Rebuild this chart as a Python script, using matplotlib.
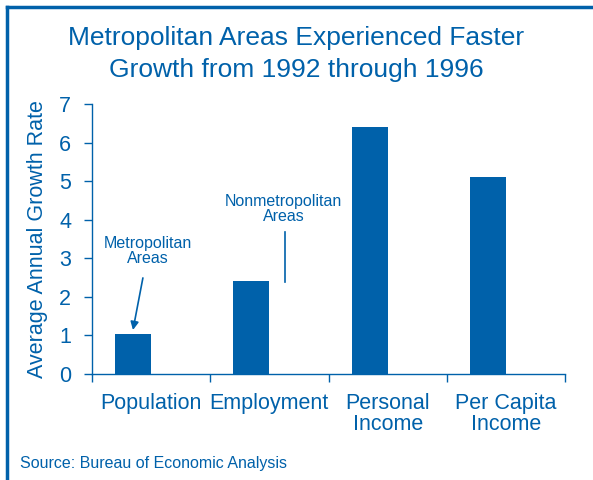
import numpy as np
import matplotlib.pyplot as plt
from matplotlib.lines import Line2D

plt.rcParams['font.family'] = ['Liberation Sans', 'DejaVu Sans']

blue = '#0061aa'

categories = ['Population', 'Employment', 'Personal\nIncome', 'Per Capita\nIncome']
metro = [1.03, 2.42, 6.42, 5.1]

fig = plt.figure(figsize=(5.93, 4.8), dpi=100)
ax = fig.add_axes([0.155, 0.221, 0.798, 0.562])

x = np.arange(len(categories))
ax.bar(x - 0.153, metro, width=0.305, color=blue)

ax.set_xlim(-0.5, 3.5)
ax.set_ylim(0, 7)
ax.set_yticks(range(8))
ax.set_xticks(np.arange(-0.5, 4.0, 1.0))
ax.set_xticklabels([])
ax.set_xticks(x, minor=True)
ax.set_xticklabels(categories, minor=True, fontsize=15.5, color=blue, linespacing=0.95)
ax.tick_params(axis='x', which='minor', length=0, pad=14)
ax.tick_params(axis='x', which='major', direction='out', length=6, color=blue, width=1)
ax.tick_params(axis='y', direction='out', length=6, color=blue, width=1,
               labelsize=15.5, labelcolor=blue, pad=9)
for s in ['top', 'right']:
    ax.spines[s].set_visible(False)
for s in ['left', 'bottom']:
    ax.spines[s].set_color(blue)
    ax.spines[s].set_linewidth(1)

ax.set_ylabel('Average Annual Growth Rate', fontsize=15.5, color=blue, labelpad=8)

# annotations
ax.annotate('Metropolitan\nAreas', xy=(-0.153, 1.14), xytext=(-0.025, 3.2),
            ha='center', va='center', fontsize=11.5, color=blue, linespacing=1.0,
            arrowprops=dict(arrowstyle='-|>', color=blue, lw=1.2, shrinkA=7, shrinkB=0,
                            mutation_scale=12))
ax.text(1.119, 4.28, 'Nonmetropolitan\nAreas', ha='center', va='center',
        fontsize=11.5, color=blue, linespacing=1.0)
ax.plot([1.136, 1.136], [2.39, 3.68], color=blue, lw=1.2)

fig.suptitle('Metropolitan Areas Experienced Faster\nGrowth from 1992 through 1996',
             y=0.945, fontsize=19, color=blue, linespacing=1.38)
fig.text(0.034, 0.025, 'Source: Bureau of Economic Analysis', fontsize=11.5, color=blue)

# frame lines (top and left)
fig.add_artist(Line2D([0.012, 0.012], [0, 0.985], color=blue, lw=2.5, transform=fig.transFigure))
fig.add_artist(Line2D([0.012, 1.0], [0.985, 0.985], color=blue, lw=2.5, transform=fig.transFigure))

fig.savefig('out.png', dpi=100)
